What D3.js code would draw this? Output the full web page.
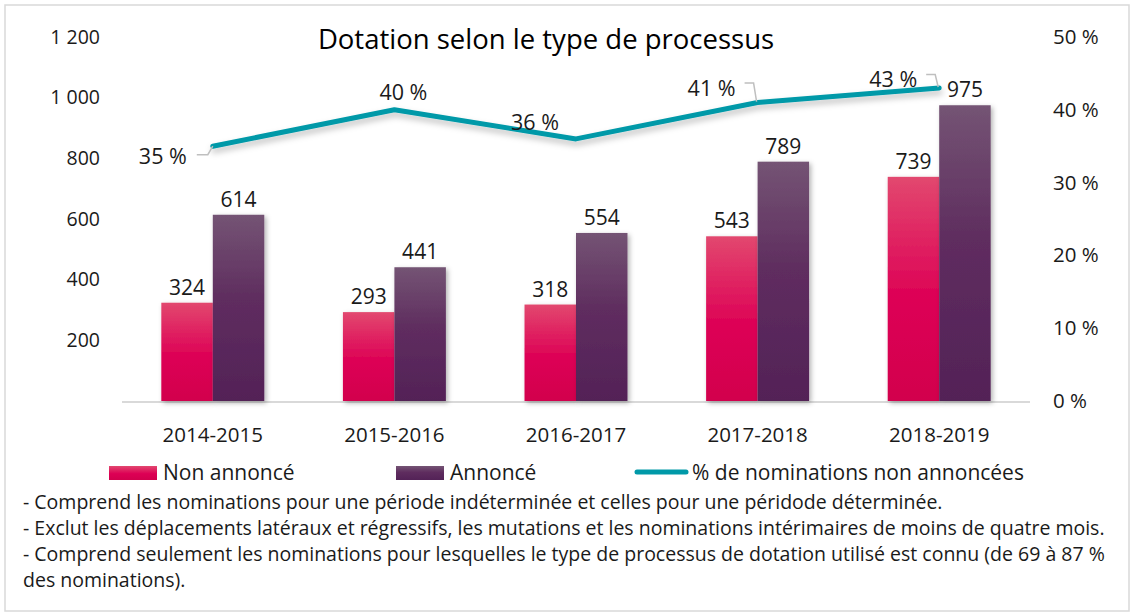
<!DOCTYPE html>
<html>
<head>
<meta charset="utf-8">
<script src="https://cdn.jsdelivr.net/npm/d3@7"></script>
<style>
  html, body { margin: 0; padding: 0; background: #fff; }
  svg { display: block; font-family: "Open Sans", "Noto Sans", sans-serif; }
</style>
</head>
<body>
<svg id="chart" width="1135" height="616"></svg>
<script>
// Chart data
const years = ["2014-2015", "2015-2016", "2016-2017", "2017-2018", "2018-2019"];
const nonAnnonce = [324, 293, 318, 543, 739];
const annonce = [614, 441, 554, 789, 975];
const pctNonAnnonce = [0.35, 0.40, 0.36, 0.41, 0.43];
const leftTicks = [200, 400, 600, 800, 1000, 1200];
const rightTicks = [0, 0.1, 0.2, 0.3, 0.4, 0.5];
const seriesNames = ["Non annoncé", "Annoncé", "% de nominations non annoncées"];
const title = "Dotation selon le type de processus";
const notes = [
  "- Comprend les nominations pour une période indéterminée et celles pour une péridode déterminée.",
  "- Exclut les déplacements latéraux et régressifs, les mutations et les nominations intérimaires de moins de quatre mois.",
  "- Comprend seulement les nominations pour lesquelles le type de processus de dotation utilisé est connu (de 69 à 87 %",
  "des nominations)."
];

// label offsets for the % labels (from the point) and whether a leader line is drawn
const pctLabelPos = [
  { dx: -26, dy: 18, anchor: "end", leader: true },
  { dx: 9, dy: -10, anchor: "middle", leader: false },
  { dx: -41, dy: -9, anchor: "middle", leader: false },
  { dx: -46, dy: -7, anchor: "middle", leader: true },
  { dx: -46, dy: -1, anchor: "middle", leader: true }
];

const svg = d3.select("#chart");
const textColor = "#1a1a1a";
const plot = { left: 122, right: 1030, top: 37, bottom: 401 };

const defs = svg.append("defs");
function grad(id, stops) {
  const g = defs.append("linearGradient").attr("id", id)
    .attr("x1", 0).attr("y1", 0).attr("x2", 0).attr("y2", 1);
  stops.forEach(s => g.append("stop").attr("offset", s[0]).attr("stop-color", s[1]));
}
grad("gPink", [[0, "#e2486f"], [0.55, "#dd0055"], [1, "#d2004d"]]);
grad("gPurple", [[0, "#745474"], [0.45, "#5f2d5f"], [1, "#532257"]]);

const shadow = defs.append("filter").attr("id", "shadow")
  .attr("x", "-20%").attr("y", "-20%").attr("width", "150%").attr("height", "150%");
shadow.append("feDropShadow").attr("dx", 2).attr("dy", 2).attr("stdDeviation", 2.5)
  .attr("flood-color", "#000").attr("flood-opacity", 0.3);
const lineShadow = defs.append("filter").attr("id", "lshadow")
  .attr("x", "-5%").attr("y", "-50%").attr("width", "110%").attr("height", "200%");
lineShadow.append("feDropShadow").attr("dx", 1).attr("dy", 4).attr("stdDeviation", 3)
  .attr("flood-color", "#000").attr("flood-opacity", 0.25);

// outer frame
svg.append("rect").attr("x", 5).attr("y", 5).attr("width", 1124).attr("height", 606)
  .attr("fill", "#fff").attr("stroke", "#d9d9d9").attr("stroke-width", 1.5);

// scales
const x0 = d3.scaleBand().domain(years).range([plot.left, plot.right])
  .paddingInner(0.433).paddingOuter(0.2165);
const x1 = d3.scaleBand().domain(["non", "ann"]).range([0, x0.bandwidth()]);
const yL = d3.scaleLinear().domain([0, 1200]).range([plot.bottom, plot.top]);
const yR = d3.scaleLinear().domain([0, 0.5]).range([plot.bottom, plot.top]);

// title
svg.append("text").attr("x", 546).attr("y", 49).attr("text-anchor", "middle")
  .attr("font-size", 27.5).attr("fill", "#000").text(title);

// left axis
const axL = svg.append("g").attr("transform", `translate(${plot.left - 22},0)`)
  .call(d3.axisLeft(yL).tickValues(leftTicks).tickSize(0)
    .tickFormat(d => d3.format(",")(d).replace(",", " ")));
axL.select(".domain").remove();
axL.selectAll("text").attr("font-size", 19.5).attr("fill", textColor)
  .attr("font-family", "Open Sans").attr("x", 0);

// right axis
const axR = svg.append("g").attr("transform", `translate(${plot.right + 23},0)`)
  .call(d3.axisRight(yR).tickValues(rightTicks).tickSize(0)
    .tickFormat(d => Math.round(d * 100) + " %"));
axR.select(".domain").remove();
axR.selectAll("text").attr("font-size", 20.5).attr("fill", textColor)
  .attr("font-family", "Open Sans").attr("x", 0);

// baseline
svg.append("line").attr("x1", plot.left).attr("x2", plot.right)
  .attr("y1", plot.bottom + 1).attr("y2", plot.bottom + 1)
  .attr("stroke", "#d9d9d9").attr("stroke-width", 2);

// bars
const groups = svg.append("g").selectAll("g").data(years).join("g")
  .attr("transform", d => `translate(${x0(d)},0)`);
const barData = (d, i) => [
  { key: "non", v: nonAnnonce[i], fill: "url(#gPink)" },
  { key: "ann", v: annonce[i], fill: "url(#gPurple)" }
];
groups.each(function (d, i) {
  const g = d3.select(this);
  const bd = barData(d, i);
  g.selectAll("rect").data(bd).join("rect")
    .attr("x", b => x1(b.key)).attr("width", x1.bandwidth())
    .attr("y", b => yL(b.v)).attr("height", b => plot.bottom - yL(b.v))
    .attr("fill", b => b.fill).attr("filter", "url(#shadow)");
  g.selectAll("text").data(bd).join("text")
    .attr("x", b => x1(b.key) + x1.bandwidth() / 2)
    .attr("y", b => yL(b.v) - 8)
    .attr("text-anchor", "middle").attr("font-size", 21).attr("fill", textColor)
    .text(b => b.v);
});

// x axis labels
svg.append("g").selectAll("text").data(years).join("text")
  .attr("x", d => x0(d) + x0.bandwidth() / 2).attr("y", 442)
  .attr("text-anchor", "middle").attr("font-size", 20.5).attr("fill", textColor)
  .text(d => d);

// line
const cx = i => x0(years[i]) + x0.bandwidth() / 2;
const line = d3.line().x((d, i) => cx(i)).y(d => yR(d));
svg.append("path").datum(pctNonAnnonce).attr("d", line)
  .attr("fill", "none").attr("stroke", "#0099a8").attr("stroke-width", 5)
  .attr("stroke-linejoin", "round").attr("stroke-linecap", "round")
  .attr("filter", "url(#lshadow)");

// % labels and leader lines
pctNonAnnonce.forEach((p, i) => {
  const px = cx(i), py = yR(p), pos = pctLabelPos[i];
  const t = svg.append("text").attr("x", px + pos.dx).attr("y", py + pos.dy)
    .attr("text-anchor", pos.anchor).attr("font-size", 21.5).attr("fill", textColor)
    .text(Math.round(p * 100) + " %");
  if (pos.leader) {
    const bb = t.node().getBBox();
    let pts;
    if (i === 0) {
      const ly = bb.y + bb.height / 2 - 1;
      pts = [[bb.x + bb.width + 10, ly], [px - 5, ly], [px, py]];
    } else {
      const ly = bb.y + bb.height / 2 - 4;
      pts = [[bb.x + bb.width + 9, ly], [px - 4, ly], [px - 1, py - 1]];
    }
    svg.append("path").attr("d", d3.line()(pts)).attr("fill", "none")
      .attr("stroke", "#bfbfbf").attr("stroke-width", 1.5);
  }
});

// legend
const legend = svg.append("g");
const legItems = [
  { x: 109, type: "rect", fill: "url(#gPink)" },
  { x: 396, type: "rect", fill: "url(#gPurple)" },
  { x: 635, type: "line", fill: "#0099a8" }
];
legItems.forEach((it, i) => {
  if (it.type === "rect") {
    legend.append("rect").attr("x", it.x).attr("y", 466).attr("width", 48).attr("height", 14)
      .attr("fill", it.fill);
  } else {
    legend.append("line").attr("x1", it.x + 2).attr("x2", it.x + 51).attr("y1", 472).attr("y2", 472)
      .attr("stroke", it.fill).attr("stroke-width", 5).attr("stroke-linecap", "round");
  }
  legend.append("text").attr("x", it.x + (it.type === "rect" ? 54 : 57)).attr("y", 480)
    .attr("font-size", 21).attr("fill", textColor).text(seriesNames[i]);
});

// notes
svg.append("g").selectAll("text").data(notes).join("text")
  .attr("x", 23).attr("y", (d, i) => 509 + i * 26)
  .attr("font-size", 19.5).attr("fill", textColor).text(d => d);
</script>
</body>
</html>
